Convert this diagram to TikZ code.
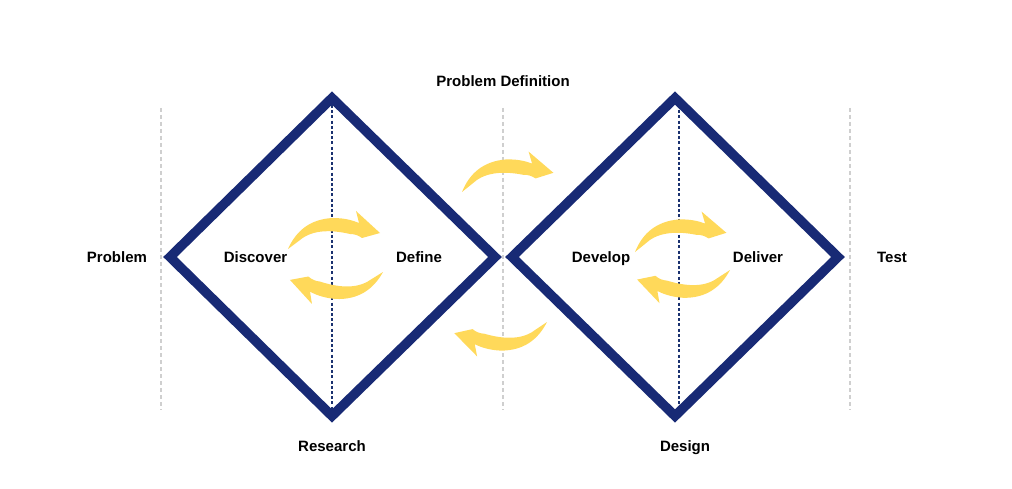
\documentclass[tikz,border=0pt]{standalone}
\usepackage{fontspec}
\setmainfont{Liberation Sans}
\definecolor{navy}{HTML}{182A75}
\definecolor{dotnavy}{HTML}{1B3270}
\definecolor{lightgray}{HTML}{CFCFCF}
\definecolor{sun}{HTML}{FFD95A}
\tikzset{
  lbl/.style={font=\fontsize{15}{18}\selectfont\bfseries, text=black, inner sep=0pt, anchor=base},
  diamondline/.style={draw=navy, line width=9.5pt, line join=miter},
  midline/.style={draw=dotnavy, line width=2.8pt, dash pattern=on 3pt off 2.2pt},
  guide/.style={draw=lightgray, line width=2.2pt, dash pattern=on 4pt off 3pt},
  yarrow/.pic={
    \fill[sun] (0,0) .. controls (8,-18) and (22,-30) .. (45,-31)
      .. controls (58,-31) and (66,-28) .. (71,-26)
      -- (68,-38) -- (92,-16) -- (74,-11)
      .. controls (70,-14) and (66,-15) .. (62,-15)
      .. controls (45,-19) and (25,-20) .. (12,-9)
      .. controls (8,-6) and (4,-3) .. (0,0) -- cycle;
  }
}
\begin{document}
\begin{tikzpicture}[x=1pt,y=-1pt]
\useasboundingbox[fill=white] (0,0) rectangle (1012,489);

% guide lines
\coordinate (g1t) at (161,108); \coordinate (g1b) at (161,410);
\coordinate (g2t) at (503,108); \coordinate (g2b) at (503,410);
\coordinate (g3t) at (850,108); \coordinate (g3b) at (850,410);
\draw[guide] (g1t) -- (g1b);
\draw[guide] (g2t) -- (g2b);
\draw[guide] (g3t) -- (g3b);

% middle dotted lines
\coordinate (m1t) at (332,105); \coordinate (m1b) at (332,410);
\coordinate (m2t) at (679,105); \coordinate (m2b) at (679,408);
\draw[midline] (m1t) -- (m1b);
\draw[midline] (m2t) -- (m2b);

% diamonds
\coordinate (lt) at (332,98);  \coordinate (lr) at (495,257);
\coordinate (lb) at (332,416); \coordinate (ll) at (170,257);
\coordinate (rt) at (675,98);  \coordinate (rr) at (838,257);
\coordinate (rb) at (675,416); \coordinate (rl) at (512,257);
\draw[diamondline] (lt) -- (lr) -- (lb) -- (ll) -- cycle;
\draw[diamondline] (rt) -- (rr) -- (rb) -- (rl) -- cycle;

% yellow arrows
\pic at (288,249) {yarrow};
\pic[rotate=175] at (383,272) {yarrow};
\pic[rotate=2] at (462,192) {yarrow};
\pic[rotate=177] at (547,322) {yarrow};
\pic[rotate=2] at (635,252) {yarrow};
\pic[rotate=176] at (730,270) {yarrow};

% labels
\node[lbl] (pdef) at (503,86.5) {Problem Definition};
\node[lbl] (prob) at (117,262.5) {Problem};
\node[lbl] (disc) at (255.5,262.5) {Discover};
\node[lbl] (defi) at (419,262.5) {Define};
\node[lbl] (deve) at (601,262.5) {Develop};
\node[lbl] (deli) at (758,262.5) {Deliver};
\node[lbl] (test) at (892,262.5) {Test};
\node[lbl] (rese) at (332,451.5) {Research};
\node[lbl] (desi) at (685,451.5) {Design};
\end{tikzpicture}
\end{document}
